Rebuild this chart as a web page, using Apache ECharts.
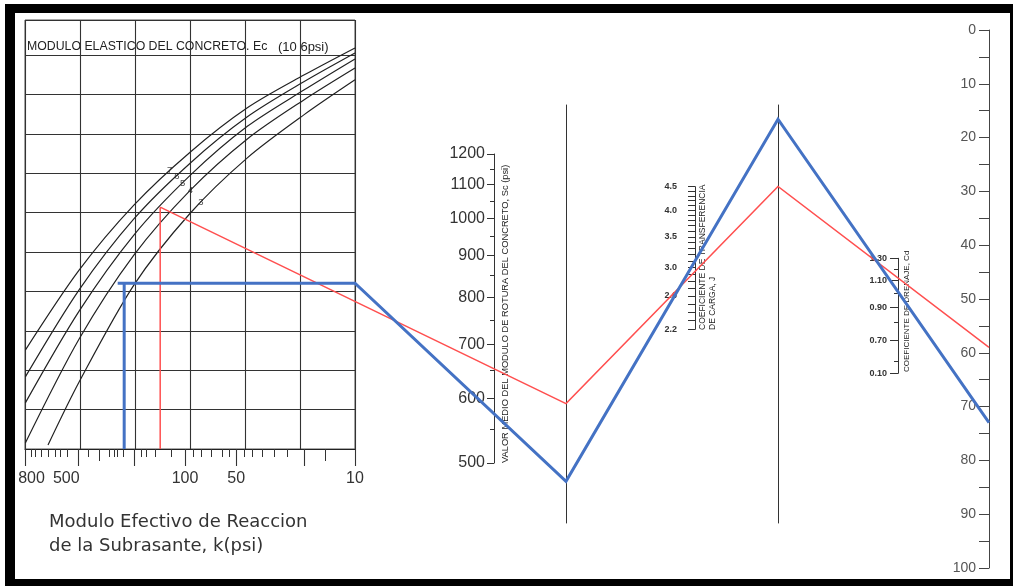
<!DOCTYPE html>
<html><head><meta charset="utf-8">
<script src="https://cdn.jsdelivr.net/npm/echarts@6/dist/echarts.min.js"></script>
<style>
html,body{margin:0;padding:0;background:#fff;}
#c{position:absolute;left:0;top:0;width:1013px;height:586px;}
.bar{position:absolute;background:#000;z-index:10;}
</style></head><body>
<div id="c"></div>
<div class="bar" style="left:5px;top:4px;width:1008px;height:9px"></div>
<div class="bar" style="left:5px;top:4px;width:10px;height:582px"></div>
<div class="bar" style="left:5px;top:579px;width:1008px;height:7px"></div>
<div class="bar" style="left:1010px;top:4px;width:3px;height:582px"></div>
<script>
// ---------------- data ----------------
const kLabelValues = [800, 500, 100, 50, 10];
const kMajorTicks = [870, 425, 200, 100, 50, 20, 10];
const kMidTicks = [320, 15];
const kMinorTicks = [800, 760, 700, 640, 580, 540, 490, 370, 280, 260, 250, 230, 180, 170, 150, 120, 90, 80, 70, 60, 55, 45, 40, 35, 30, 25];
const kAxisMax = 874;

const ecValues = [7, 6, 5, 4, 3];
const kCurveSamples = [870, 420, 200, 93, 43, 20, 10];
const kCurveSamplesEc3 = [640, 420, 200, 93, 43, 20, 10];
const curveEc7 = [2.51, 4.54, 6.19, 7.54, 8.66, 9.49, 10.18];
const curveEc6 = [1.83, 4.04, 5.84, 7.26, 8.43, 9.32, 10.05];
const curveEc5 = [1.17, 3.50, 5.43, 6.95, 8.19, 9.11, 9.90];
const curveEc4 = [0.15, 2.79, 4.92, 6.57, 7.87, 8.86, 9.67];
const curveEc3 = [0.10, 1.70, 4.16, 5.99, 7.39, 8.48, 9.37];
const ecLabelK = [131, 119, 110, 99, 86];

const scLabels = [500, 600, 700, 800, 900, 1000, 1100, 1200];
const scMinorTicks = [550, 650, 750, 850, 950, 1050, 1150];
const jTicks = [2.2, 2.3, 2.4, 2.5, 2.6, 2.7, 2.8, 2.9, 3.0, 3.1, 3.2, 3.3, 3.4, 3.5, 3.6, 3.7, 3.8, 3.9, 4.0, 4.1, 4.2, 4.3, 4.4, 4.5];
const jLabels = [4.5, 4.0, 3.5, 3.0, 2.6, 2.2];
const cdMajorTicks = [1.30, 1.10, 0.90, 0.70, 0.546];
const cdTickLabels = ['1.30', '1.10', '0.90', '0.70', '0.10'];
const cdMinorTicks = [1.2, 1.0, 0.8, 0.6];
const resultLabels = [0, 10, 20, 30, 40, 50, 60, 70, 80, 90, 100];
const resultTicks = [0, 5, 10, 15, 20, 25, 30, 35, 40, 45, 50, 55, 60, 65, 70, 75, 80, 85, 90, 95, 100];

// two solution paths: red (index 0) and blue (index 1)
const kRead = [140, 228];
const ecRead = [5, null];          // red turns on the Ec = 5 curve
const turnLevel = [null, 4.21];    // blue turns horizontally (panel units)
const blueStubK = 249;
const scRead = [653, 575];
const jRead = [2.94, 3.10];
const cdRead = [1.12, 1.01];

// ---------------- chart ----------------
const L = Math.log10;
const FONT = 'Liberation Sans';
const RED = '#ff4f4f', BLUE = '#4472c4', INK = '#222';
const chart = echarts.init(document.getElementById('c'));

function interp(ks, vs, k) {
  const x = L(k);
  for (let i = 0; i < ks.length - 1; i++) {
    const a = L(ks[i]), b = L(ks[i + 1]);
    if (x <= a && x >= b) { const t = (a - x) / (a - b); return vs[i] + t * (vs[i + 1] - vs[i]); }
  }
  return null;
}
const curveSets = [curveEc7, curveEc6, curveEc5, curveEc4, curveEc3];
const curveKs = [kCurveSamples, kCurveSamples, kCurveSamples, kCurveSamples, kCurveSamplesEc3];

const hid = {axisLine: {show: false}, axisTick: {show: false}, axisLabel: {show: false}, splitLine: {show: false}};
function dummyX(g) { return Object.assign({gridIndex: g, type: 'value', position: 'bottom', min: 0, max: 1, show: false}, hid); }
function kAxis(extra) {
  return Object.assign({gridIndex: 0, type: 'value', position: 'bottom', inverse: true, min: L(10), max: L(kAxisMax),
    splitLine: {show: false}}, extra);
}
function pivotY(g) {
  return {gridIndex: g, type: 'value', position: 'left', min: 0, max: 1,
    axisLine: {show: true, onZero: false, lineStyle: {color: '#333', width: 1}},
    axisTick: {show: false}, axisLabel: {show: false}, splitLine: {show: false}};
}
const gridBase = {outerBoundsMode: 'none', containLabel: false};

const option = {
  animation: false,
  backgroundColor: 'transparent',
  grid: [
    Object.assign({left: 25, top: 20, width: 330, height: 429, show: true, borderColor: '#555', borderWidth: 1, backgroundColor: 'transparent'}, gridBase), // 0 panel
    Object.assign({left: 494, top: 154, width: 1, height: 309}, gridBase),   // 1 Sc
    Object.assign({left: 566, top: 105, width: 1, height: 418}, gridBase),   // 2 pivot 1
    Object.assign({left: 695, top: 186.7, width: 1, height: 142.6}, gridBase), // 3 J
    Object.assign({left: 778, top: 105, width: 1, height: 418}, gridBase),   // 4 pivot 2
    Object.assign({left: 898, top: 258.3, width: 1, height: 115}, gridBase), // 5 Cd
    Object.assign({left: 989, top: 30, width: 1, height: 538}, gridBase),    // 6 result
    Object.assign({left: 0, top: 0, width: 1013, height: 586}, gridBase)     // 7 overlay
  ],
  xAxis: [
    {gridIndex: 0, type: 'value', position: 'top', min: 0, max: 6, interval: 1,
      axisLine: {show: false}, axisTick: {show: false}, axisLabel: {show: false},
      splitLine: {show: true, lineStyle: {color: '#333', width: 1.1}}},                       // 0
    kAxis({axisLine: {show: true, onZero: false, lineStyle: {color: INK, width: 1.2}},
      axisTick: {show: true, customValues: kMinorTicks.map(L), length: 8, lineStyle: {color: '#333', width: 1}},
      axisLabel: {show: true, customValues: kLabelValues.map(L), formatter: v => String(Math.round(Math.pow(10, v))),
        margin: 22, fontSize: 16, color: '#333', fontFamily: FONT}}),                         // 1
    kAxis({axisLine: {show: false}, axisTick: {show: true, customValues: kMajorTicks.map(L), length: 17, lineStyle: {color: '#333', width: 1.1}},
      axisLabel: {show: false}}),                                                           // 2
    kAxis({axisLine: {show: false}, axisTick: {show: true, customValues: kMidTicks.map(L), length: 12, lineStyle: {color: '#333', width: 1}},
      axisLabel: {show: false}}),                                                           // 3
    dummyX(1), dummyX(2), dummyX(3), dummyX(4), dummyX(5), dummyX(6),                       // 4..9
    Object.assign({gridIndex: 7, type: 'value', position: 'bottom', min: 0, max: 1013, show: false}, hid) // 10
  ],
  yAxis: [
    {gridIndex: 0, type: 'value', position: 'left', min: 0, max: 429 / 39.4, interval: 1,
      axisLine: {show: false}, axisTick: {show: false}, axisLabel: {show: false},
      splitLine: {show: true, lineStyle: {color: '#333', width: 1.1}}},                       // 0
    {gridIndex: 1, type: 'value', position: 'left', min: L(500), max: L(1200),
      axisLine: {show: true, onZero: false, lineStyle: {color: '#333', width: 1}},
      axisTick: {show: true, customValues: scLabels.map(L), length: 7, lineStyle: {color: '#333'}},
      axisLabel: {show: true, customValues: scLabels.map(L), formatter: v => String(Math.round(Math.pow(10, v))),
        margin: 9, fontSize: 16, color: '#333', fontFamily: FONT},
      splitLine: {show: false}},                                                            // 1
    {gridIndex: 1, type: 'value', position: 'left', min: L(500), max: L(1200),
      axisLine: {show: false}, axisTick: {show: true, customValues: scMinorTicks.map(L), length: 4, lineStyle: {color: '#333'}},
      axisLabel: {show: false}, splitLine: {show: false}},                                  // 2
    pivotY(2),                                                                              // 3
    {gridIndex: 3, type: 'value', position: 'left', min: L(2.2), max: L(4.5),
      axisLine: {show: true, onZero: false, lineStyle: {color: '#333', width: 1}},
      axisTick: {show: true, customValues: jTicks.map(L), length: 7, lineStyle: {color: '#333'}},
      axisLabel: {show: true, customValues: jLabels.map(L), formatter: v => Math.pow(10, v).toFixed(1),
        margin: 18, fontSize: 9, fontWeight: 'bold', color: '#333', fontFamily: FONT},
      splitLine: {show: false}},                                                            // 4
    pivotY(4),                                                                              // 5
    {gridIndex: 5, type: 'value', position: 'left', min: L(0.546), max: L(1.3),
      axisLine: {show: true, onZero: false, lineStyle: {color: '#333', width: 1}},
      axisTick: {show: true, customValues: cdMajorTicks.map(L), length: 8, lineStyle: {color: '#333'}},
      axisLabel: {show: true, customValues: cdMajorTicks.map(L),
        formatter: v => { const c = Math.pow(10, v); let bi = 0;
          cdMajorTicks.forEach((t, i) => { if (Math.abs(t - c) < Math.abs(cdMajorTicks[bi] - c)) bi = i; });
          return cdTickLabels[bi]; },
        margin: 11, fontSize: 9, fontWeight: 'bold', color: '#333', fontFamily: FONT},
      splitLine: {show: false}},                                                            // 6
    {gridIndex: 5, type: 'value', position: 'left', min: L(0.546), max: L(1.3),
      axisLine: {show: false}, axisTick: {show: true, customValues: cdMinorTicks.map(L), length: 4, lineStyle: {color: '#333'}},
      axisLabel: {show: false}, splitLine: {show: false}},                                  // 7
    {gridIndex: 6, type: 'value', position: 'left', inverse: true, min: 0, max: 100,
      axisLine: {show: true, onZero: false, lineStyle: {color: '#444', width: 1}},
      axisTick: {show: true, customValues: resultTicks, length: 10, lineStyle: {color: '#444'}},
      axisLabel: {show: true, customValues: resultLabels, margin: 13, fontSize: 14, color: '#555', fontFamily: FONT},
      splitLine: {show: false}},                                                            // 8
    Object.assign({gridIndex: 7, type: 'value', position: 'left', inverse: true, min: 0, max: 586, show: false}, hid) // 9
  ],
  graphic: [
    {type: 'text', x: 27, y: 47, silent: true, style: {text: 'MODULO ELASTICO DEL CONCRETO. Ec', fontFamily: FONT, fontSize: 12.3, fill: INK, align: 'left', verticalAlign: 'middle'}},
    {type: 'text', x: 278, y: 47, silent: true, style: {text: '(10 6psi)', fontFamily: FONT, fontSize: 13, fill: INK, align: 'left', verticalAlign: 'middle'}},
    {type: 'text', x: 49, y: 522, silent: true, style: {text: 'Modulo Efectivo de Reaccion', fontFamily: 'DejaVu Sans', fontSize: 18, fill: '#333', align: 'left', verticalAlign: 'middle'}},
    {type: 'text', x: 49, y: 546, silent: true, style: {text: 'de la Subrasante, k(psi)', fontFamily: 'DejaVu Sans', fontSize: 18, fill: '#333', align: 'left', verticalAlign: 'middle'}},
    {type: 'text', x: 505, y: 463, rotation: Math.PI / 2, silent: true, style: {text: 'VALOR MEDIO DEL MODULO DE ROTURA DEL CONCRETO, Sc (psi)', fontFamily: FONT, fontSize: 9.3, fill: INK, align: 'left', verticalAlign: 'middle'}},
    {type: 'text', x: 703, y: 330, rotation: Math.PI / 2, silent: true, style: {text: 'COEFICIENTE DE TRANSFERENCIA', fontFamily: FONT, fontSize: 8.5, fill: INK, align: 'left', verticalAlign: 'middle'}},
    {type: 'text', x: 713, y: 330, rotation: Math.PI / 2, silent: true, style: {text: 'DE CARGA, J', fontFamily: FONT, fontSize: 8.5, fill: INK, align: 'left', verticalAlign: 'middle'}},
    {type: 'text', x: 907, y: 372, rotation: Math.PI / 2, silent: true, style: {text: 'COEFICIENTE DE DRENAJE, Cd', fontFamily: FONT, fontSize: 8, fill: INK, align: 'left', verticalAlign: 'middle'}}
  ],
  series: []
};

const series = [];
curveSets.forEach((vs, i) => {
  series.push({type: 'line', name: 'Ec ' + ecValues[i], xAxisIndex: 1, yAxisIndex: 0, silent: true,
    data: curveKs[i].map((k, j) => [L(k), vs[j]]), smooth: 0.3, symbol: 'none', z: 3,
    lineStyle: {color: INK, width: 1.2}});
});
series.push({type: 'scatter', xAxisIndex: 1, yAxisIndex: 0, silent: true, symbolSize: 2, z: 4,
  itemStyle: {color: 'rgba(0,0,0,0)'},
  data: ecLabelK.map((k, i) => [L(k), interp(curveKs[i], curveSets[i], k)]),
  label: {show: true, position: 'right', distance: 1, offset: [0, -5], formatter: p => String(ecValues[p.dataIndex]),
    fontSize: 9.5, color: INK, fontFamily: FONT}});
option.series = series;
chart.setOption(option);

// ---------------- solution paths through the scales ----------------
const axX = xi => chart.convertToPixel({xAxisIndex: xi}, 0);
const axY = (yi, v) => chart.convertToPixel({yAxisIndex: yi}, v);
const panelPt = (k, v) => chart.convertToPixel({xAxisIndex: 1, yAxisIndex: 0}, [L(k), v]);
const toOverlay = p => chart.convertFromPixel({xAxisIndex: 10, yAxisIndex: 9}, p);
function extend(p, q, xt) { const t = (xt - p[0]) / (q[0] - p[0]); return [xt, p[1] + t * (q[1] - p[1])]; }

const xSc = axX(4), xP1 = axX(5), xJ = axX(6), xP2 = axX(7), xCd = axX(8), xRes = axX(9);
const extra = [];
[0, 1].forEach(i => {
  const color = i === 0 ? RED : BLUE, width = i === 0 ? 1.5 : 3, z = i === 0 ? 6 : 7;
  let vTurn, start, pts = [];
  if (ecRead[i] != null) {
    const ci = ecValues.indexOf(ecRead[i]);
    vTurn = interp(curveKs[ci], curveSets[ci], kRead[i]);
    start = panelPt(kRead[i], vTurn);
    pts.push(start);
  } else {
    vTurn = turnLevel[i];
    pts.push(panelPt(blueStubK, vTurn));
    start = panelPt(10, vTurn);
    pts.push(start);
  }
  // vertical from k axis up to the turning point
  extra.push({type: 'line', xAxisIndex: 1, yAxisIndex: 0, silent: true, symbol: 'none', z: z,
    data: [[L(kRead[i]), 0], [L(kRead[i]), vTurn]], lineStyle: {color: color, width: width}});
  const sPt = [xSc, axY(1, L(scRead[i]))];
  const p1 = extend(start, sPt, xP1);
  const jPt = [xJ, axY(4, L(jRead[i]))];
  const p2 = extend(p1, jPt, xP2);
  const cPt = [xCd, axY(6, L(cdRead[i]))];
  const pe = extend(p2, cPt, xRes);
  pts.push(p1, p2, pe);
  extra.push({type: 'line', xAxisIndex: 10, yAxisIndex: 9, silent: true, symbol: 'none', z: z,
    data: pts.map(toOverlay), lineStyle: {color: color, width: width, join: 'miter'}});
});
chart.setOption({series: series.concat(extra)});
</script>
</body></html>
